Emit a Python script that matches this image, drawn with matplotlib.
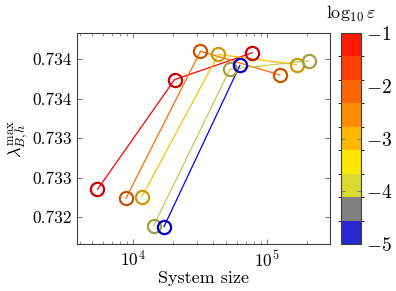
import numpy as np
import matplotlib
matplotlib.use("Agg")
import matplotlib.pyplot as plt
from matplotlib.colors import ListedColormap, BoundaryNorm
from matplotlib.ticker import FixedLocator, LogLocator, NullFormatter

plt.rcParams['font.family'] = 'serif'
plt.rcParams['font.serif'] = ['cmr10']
plt.rcParams['mathtext.fontset'] = 'cm'
plt.rcParams['axes.formatter.use_mathtext'] = True
plt.rcParams['axes.unicode_minus'] = False

# data
log_eps = [-1, -2, -3, -4, -5]
size_e1 = [5.45e3, 2.05e4, 7.8e4]
lam_e1 = [0.73235, 0.73374, 0.73408]
size_e2 = [8.9e3, 3.2e4, 1.25e5]
lam_e2 = [0.73224, 0.73410, 0.73380]
size_e3 = [1.17e4, 4.35e4, 1.67e5]
lam_e3 = [0.73226, 0.73406, 0.73393]
size_e4 = [1.43e4, 5.3e4, 2.07e5]
lam_e4 = [0.73189, 0.73387, 0.73398]
size_e5 = [1.71e4, 6.3e4]
lam_e5 = [0.73188, 0.73392]

y_ticks = [0.7320, 0.7325, 0.7330, 0.7335, 0.7340]
y_labels = ['0.732', '0.733', '0.733', '0.734', '0.734']

line_colors = ['#ff0000', '#ff6a00', '#ffbf00', '#c8c850', '#0000ff']
mark_colors = ['#cc0000', '#cc5200', '#cc9900', '#a0a040', '#0000cc']

cbar_colors = ['#2828d0', '#808080', '#d9d930', '#ffe600', '#ffb800',
               '#ff8c00', '#ff6600', '#ff4000', '#ff1a00']

sizes = [size_e1, size_e2, size_e3, size_e4, size_e5]
lams = [lam_e1, lam_e2, lam_e3, lam_e4, lam_e5]

fig = plt.figure(figsize=(3.96, 2.91), dpi=100)
ax = fig.add_axes([0.194, 0.1615, 0.639, 0.725])

for s, l, lc, mc in zip(sizes, lams, line_colors, mark_colors):
    ax.plot(s, l, color=lc, lw=0.9, zorder=2)
    ax.plot(s, l, ls='none', marker='o', ms=9.5, mfc='none', mec=mc, mew=1.6, zorder=3)

ax.set_xscale('log')
ax.set_xlim(3.82e3, 2.96e5)
ax.set_ylim(0.73166, 0.73433)
ax.yaxis.set_major_locator(FixedLocator(y_ticks))
ax.set_yticklabels(y_labels)
ax.xaxis.set_minor_locator(LogLocator(base=10, subs=np.arange(2, 10)))
ax.xaxis.set_minor_formatter(NullFormatter())

ax.tick_params(which='both', direction='in', top=True, right=True, color='#808080', labelsize=12.5)
ax.tick_params(which='major', length=3.5)
ax.tick_params(which='minor', length=2)
for sp in ax.spines.values():
    sp.set_color('#404040')
    sp.set_linewidth(0.8)

ax.set_xlabel('System size', fontsize=13, labelpad=1)
ax.set_ylabel(r'$\lambda^{\max}_{B,h}$', fontsize=13, labelpad=1)

# colorbar
cax = fig.add_axes([0.861, 0.1615, 0.0505, 0.725])
cmap = ListedColormap(cbar_colors)
bounds = np.linspace(-5, -1, len(cbar_colors) + 1)
norm = BoundaryNorm(bounds, cmap.N)
sm = plt.cm.ScalarMappable(cmap=cmap, norm=norm)
cb = fig.colorbar(sm, cax=cax, ticks=log_eps)
cb.ax.set_yticklabels([r'$-%d$' % abs(v) for v in log_eps])
cb.ax.yaxis.set_ticks_position('both')
cb.ax.tick_params(direction='in', length=3, color='#808080', labelsize=14,
                  labelleft=False, labelright=True)
cb.outline.set_edgecolor('#404040')
cb.outline.set_linewidth(0.8)
cb.ax.set_title(r'$\log_{10}\varepsilon$', fontsize=13, pad=10)

fig.savefig('out.png', dpi=100)
